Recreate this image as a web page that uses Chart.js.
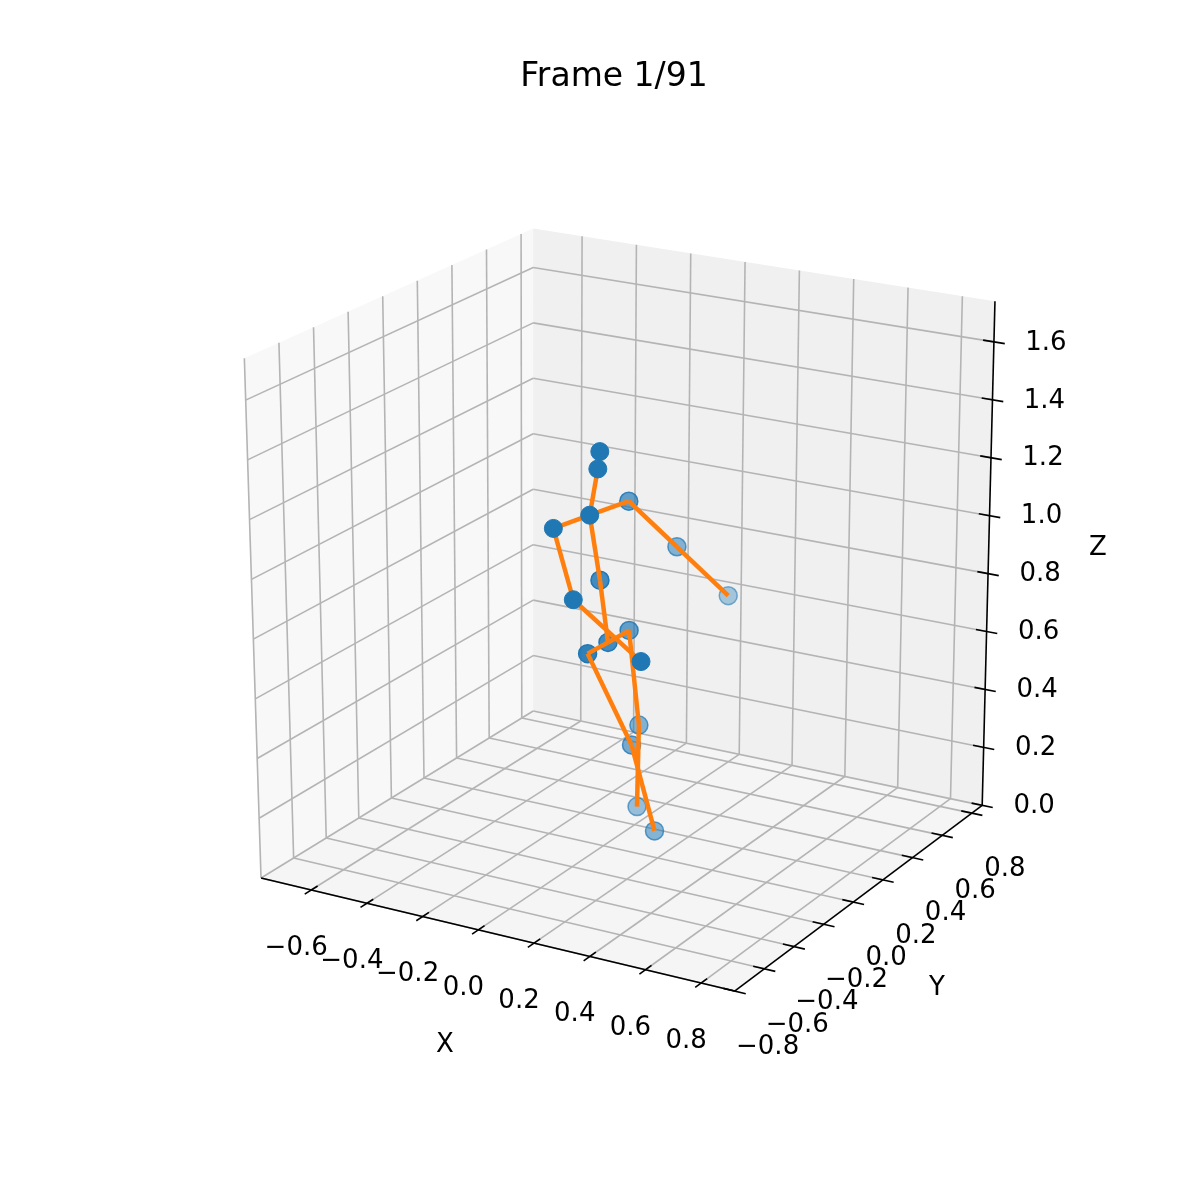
<!DOCTYPE html>
<html><head><meta charset="utf-8">
<script src="https://cdn.jsdelivr.net/npm/chart.js@4"></script>
<style>html,body{margin:0;padding:0;background:#fff}#c{display:block}</style>
</head><body>
<div style="width:1200px;height:1200px"><canvas id="c" width="1200" height="1200"></canvas></div>
<script>
// joint 3D coordinates
const jointX = [0.102,0.095,0.066,-0.006,0.064,0.361,0.034,0.151,0.282,-0.012,0.017,0.036,-0.028,0.015,-0.020,0.017,0.074];
const jointY = [-0.2,-0.2,-0.2,-0.3,-0.3,-0.4,0.1,0.2,0.3,0.0,0.0,0.1,-0.05,0.2,0.25,0.15,0.2];
const jointZ = [1.405,1.346,1.187,1.160,0.935,0.815,1.140,0.975,0.800,0.895,0.690,0.702,0.660,0.343,0.040,0.293,-0.006];
const bones = [[2,1],[2,3],[3,4],[4,5],[2,6],[6,7],[7,8],[2,9],[9,10],[10,12],[10,11],[12,15],[15,16],[11,13],[13,14]];
const xTicks = [-0.6,-0.4,-0.2,0.0,0.2,0.4,0.6,0.8];
const yTicks = [-0.8,-0.6,-0.4,-0.2,0.0,0.2,0.4,0.6,0.8];
const zTicks = [0.0,0.2,0.4,0.6,0.8,1.0,1.2,1.4,1.6];
const XR=[-0.78,0.92], YR=[-0.8,0.87], ZR=[0,1.74];
// projection: screen corners of the axes box (view definition)
const C = {"000":[255,883],"100":[737,998],"110":[989,809],"010":[532,713],
           "001":[238,354],"011":[532,222],"111":[1002,296],"101":[745,433]};
function proj(x,y,z){
  const u=(x-XR[0])/(XR[1]-XR[0]), v=(y-YR[0])/(YR[1]-YR[0]), w=(z-ZR[0])/(ZR[1]-ZR[0]);
  let px=0,py=0;
  for(const i of [0,1])for(const j of [0,1])for(const k of [0,1]){
    const f=(i?u:1-u)*(j?v:1-v)*(k?w:1-w); const p=C[""+i+j+k]; px+=f*p[0]; py+=f*p[1];}
  return {x:px,y:py};
}
const fmt=v=>(v<0?"\u2212":"")+Math.abs(v).toFixed(1);
const alphaOf=i=>Math.max(0.35,Math.min(1,1-(jointY[i]+0.1)*1.6));
const pts=jointX.map((x,i)=>({...proj(x,jointY[i],jointZ[i]),i}));
const opaque=pts.filter(p=>alphaOf(p.i)>=0.99), faded=pts.filter(p=>alphaOf(p.i)<0.99);
const datasets=[
 {data:opaque,showLine:false,pointRadius:9,pointHoverRadius:9,backgroundColor:'#1f77b4',borderColor:'#1f77b4',borderWidth:1,order:0},
 {data:faded,showLine:false,pointRadius:9,pointHoverRadius:9,order:2,
  backgroundColor:c=>`rgba(31,119,180,${alphaOf(faded[c.dataIndex].i)})`,
  borderColor:c=>`rgba(31,119,180,${Math.min(1,alphaOf(faded[c.dataIndex].i)+0.2)})`,borderWidth:1.5}
];
bones.forEach(b=>datasets.push({data:b.map(i=>pts[i]),showLine:true,pointRadius:0,borderColor:'#ff7f0e',borderWidth:4.5,order:1}));
const box={id:'box',beforeDatasetsDraw(ch){
  const g=ch.ctx,sx=ch.scales.x,sy=ch.scales.y;
  const P=(x,y,z)=>{const p=proj(x,y,z);return [sx.getPixelForValue(p.x),sy.getPixelForValue(p.y)];};
  const poly=(ps,fill)=>{g.beginPath();ps.forEach((p,i)=>{const q=P(...p);i?g.lineTo(q[0],q[1]):g.moveTo(q[0],q[1]);});g.closePath();g.fillStyle=fill;g.fill();};
  const seg=(a,b,col,w)=>{const p=P(...a),q=P(...b);g.beginPath();g.moveTo(p[0],p[1]);g.lineTo(q[0],q[1]);g.strokeStyle=col;g.lineWidth=w;g.stroke();};
  const [x0,x1]=XR,[y0,y1]=YR,[z0,z1]=ZR;
  g.save();
  poly([[x0,y0,z0],[x1,y0,z0],[x1,y1,z0],[x0,y1,z0]],'#f5f5f5');
  poly([[x0,y0,z0],[x0,y1,z0],[x0,y1,z1],[x0,y0,z1]],'#f8f8f8');
  poly([[x0,y1,z0],[x1,y1,z0],[x1,y1,z1],[x0,y1,z1]],'#f0f0f0');
  const gc='#b4b4b4',gw=1.6;
  xTicks.forEach(t=>{seg([t,y0,z0],[t,y1,z0],gc,gw);seg([t,y1,z0],[t,y1,z1],gc,gw);});
  yTicks.forEach(t=>{seg([x0,t,z0],[x1,t,z0],gc,gw);seg([x0,t,z0],[x0,t,z1],gc,gw);});
  zTicks.forEach(t=>{seg([x0,y0,t],[x0,y1,t],gc,gw);seg([x0,y1,t],[x1,y1,t],gc,gw);});
  // axes
  seg([x0,y0,z0],[x1,y0,z0],'#000',1.6);
  seg([x1,y0,z0],[x1,y1,z0],'#000',1.6);
  seg([x1,y1,z0],[x1,y1,z1],'#000',1.6);
  g.fillStyle='#000';g.font='26px "DejaVu Sans"';g.textAlign='center';g.textBaseline='middle';
  xTicks.forEach(t=>{seg([t,y0-0.04,z0],[t,y0+0.04,z0],'#000',1.6);const p=P(t,y0,z0);g.fillText(fmt(t),p[0]-15,p[1]+58);});
  yTicks.forEach(t=>{seg([x1-0.04,t,z0],[x1+0.04,t,z0],'#000',1.6);const p=P(x1,t,z0);g.fillText(fmt(t),p[0]+33,p[1]+56);});
  zTicks.forEach(t=>{seg([x1-0.04,y1,t],[x1+0.04,y1,t],'#000',1.6);const p=P(x1,y1,t);g.fillText(fmt(t),p[0]+52,p[1]+1);});
  g.fillText('X',445,1045);g.fillText('Y',937,988);g.fillText('Z',1098,548);
  g.font='33px "DejaVu Sans"';g.fillText('Frame 1/91',614,77);
  g.restore();
}};
new Chart(document.getElementById('c'),{type:'scatter',data:{datasets},plugins:[box],
 options:{responsive:false,animation:false,layout:{padding:0},
  plugins:{legend:{display:false},tooltip:{enabled:false}},
  scales:{x:{type:'linear',min:0,max:1200,display:false},y:{type:'linear',min:0,max:1200,reverse:true,display:false}}}});
</script></body></html>
